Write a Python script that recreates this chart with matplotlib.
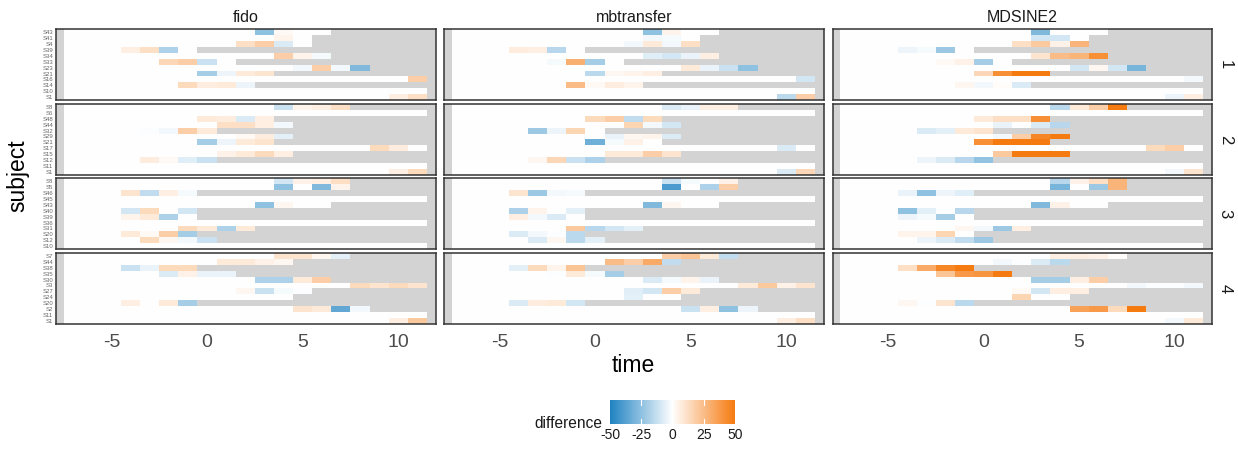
import numpy as np
import matplotlib
matplotlib.use("Agg")
import matplotlib.pyplot as plt
from matplotlib.colors import LinearSegmentedColormap, Normalize
from matplotlib.cm import ScalarMappable

plt.rcParams['font.family'] = ['Liberation Sans', 'DejaVu Sans']

times = list(range(-7, 12))
methods = ["fido", "mbtransfer", "MDSINE2"]
facets = ["1", "2", "3", "4"]
legend_breaks = [-50, -25, 0, 25, 50]

subjects_1 = ["S43", "S41", "S4", "S39", "S34", "S33", "S23", "S21", "S16", "S14", "S10", "S1"]
last_1 = [6, 5, 5, -1, 6, 1, 8, 3, 11, 2, 11, 11]
fido_1 = [("S43",3,-25),("S43",4,2),("S41",4,4),("S4",2,12),("S4",3,18),("S4",4,-8),("S39",-4,6),("S39",-3,12),("S39",-2,-18),("S34",4,18),("S34",5,4),("S34",6,-2),("S33",-2,15),("S33",-1,18),("S33",0,-12),("S23",5,-3),("S23",6,18),("S23",7,-3),("S23",8,-28),("S21",0,-20),("S21",1,-4),("S21",2,8),("S21",3,10),("S16",11,18),("S14",-1,14),("S14",0,7),("S14",1,8),("S14",2,-4),("S1",10,6),("S1",11,12)]
mbtransfer_1 = [("S43",3,-25),("S43",4,4),("S41",3,-3),("S41",4,-2),("S4",2,-3),("S4",3,8),("S4",4,-3),("S4",5,12),("S39",-4,7),("S39",-3,6),("S39",-2,-16),("S34",3,-7),("S34",4,-10),("S34",5,-5),("S34",6,6),("S33",-2,-2),("S33",-1,30),("S33",0,-20),("S23",5,8),("S23",6,-5),("S23",7,-12),("S23",8,-25),("S21",0,-15),("S21",1,3),("S21",2,4),("S21",3,6),("S16",11,-10),("S14",-1,25),("S14",0,2),("S14",1,7),("S14",2,4),("S1",10,-15),("S1",11,18)]
mdsine_1 = [("S43",3,-28),("S41",3,-10),("S41",4,-10),("S4",2,12),("S4",3,20),("S4",4,5),("S4",5,28),("S39",-4,-4),("S39",-3,-2),("S39",-2,-22),("S34",3,10),("S34",4,25),("S34",5,28),("S34",6,42),("S33",-2,2),("S33",-1,5),("S33",0,-20),("S23",5,-10),("S23",6,3),("S23",7,-10),("S23",8,-30),("S21",0,15),("S21",1,42),("S21",2,50),("S21",3,50),("S16",11,-3),("S14",-1,3),("S14",0,-3),("S14",1,1),("S14",2,-8),("S1",10,-4),("S1",11,6)]

subjects_2 = ["S8", "S6", "S48", "S44", "S32", "S29", "S21", "S17", "S15", "S12", "S11", "S1"]
last_2 = [7, 11, 3, 4, 0, 4, 3, 11, 4, 0, 11, 11]
fido_2 = [("S8",4,-12),("S8",5,4),("S8",6,6),("S8",7,12),("S48",0,8),("S48",1,7),("S48",2,-8),("S48",3,6),("S44",1,12),("S44",2,12),("S44",3,6),("S44",4,-3),("S32",-3,-1),("S32",-2,-3),("S32",-1,18),("S32",0,8),("S29",2,2),("S29",3,7),("S29",4,-6),("S21",0,-20),("S21",1,-4),("S21",2,8),("S21",3,10),("S17",9,14),("S17",10,7),("S15",1,5),("S15",2,8),("S15",3,14),("S15",4,6),("S12",-3,7),("S12",-2,2),("S12",-1,-7),("S12",0,-12),("S1",10,6),("S1",11,14)]
mbtransfer_2 = [("S8",4,-8),("S8",5,-5),("S8",6,6),("S8",7,6),("S48",0,14),("S48",1,18),("S48",2,-14),("S48",3,14),("S44",2,16),("S44",3,-3),("S44",4,-10),("S32",-3,-22),("S32",-2,-4),("S32",-1,16),("S29",1,-5),("S29",2,3),("S29",3,4),("S29",4,-8),("S21",0,-32),("S21",1,-2),("S21",2,5),("S17",10,-8),("S15",1,8),("S15",2,8),("S15",3,18),("S15",4,10),("S12",-3,3),("S12",-2,15),("S12",-1,-12),("S12",0,-18),("S1",10,-8),("S1",11,15)]
mdsine_2 = [("S8",4,-15),("S8",5,8),("S8",6,18),("S8",7,50),("S48",0,8),("S48",1,12),("S48",2,12),("S48",3,42),("S44",1,-5),("S44",3,-8),("S44",4,-16),("S32",-3,-8),("S32",-2,-6),("S32",-1,8),("S32",0,10),("S29",1,-3),("S29",2,18),("S29",3,45),("S29",4,50),("S21",0,42),("S21",1,50),("S21",2,50),("S21",3,50),("S17",9,14),("S17",10,18),("S15",1,20),("S15",2,50),("S15",3,50),("S15",4,50),("S12",-3,-4),("S12",-2,-8),("S12",-1,-16),("S12",0,-24),("S1",10,-3),("S1",11,10)]

subjects_3 = ["S8", "S5", "S46", "S45", "S43", "S40", "S39", "S36", "S31", "S20", "S12", "S10"]
last_3 = [7, 7, -1, 11, 6, -1, -1, 11, 2, -1, 0, 11]
fido_3 = [("S8",4,-10),("S8",5,5),("S8",6,6),("S8",7,12),("S5",4,-25),("S5",6,-28),("S5",7,4),("S46",-4,10),("S46",-3,-14),("S46",-2,6),("S46",-1,-2),("S43",3,-25),("S43",4,3),("S40",-4,-10),("S40",-3,14),("S40",-1,-10),("S39",-4,4),("S39",-3,8),("S39",-2,-18),("S31",-1,14),("S31",0,8),("S31",1,-18),("S31",2,8),("S20",-4,8),("S20",-3,2),("S20",-2,18),("S20",-1,-20),("S12",-3,14),("S12",-2,3),("S12",-1,-3),("S12",0,-12)]
mbtransfer_3 = [("S8",4,-12),("S8",5,-2),("S8",7,5),("S5",4,-40),("S5",6,-18),("S5",7,18),("S46",-4,10),("S46",-3,-22),("S46",-2,-3),("S46",-1,-2),("S43",3,-28),("S43",4,3),("S40",-4,-18),("S40",-3,4),("S40",-1,-6),("S39",-4,6),("S39",-3,-3),("S39",-2,-8),("S31",-1,20),("S31",0,-16),("S31",1,-10),("S31",2,-6),("S20",-4,-8),("S20",-3,-3),("S20",-2,-1),("S20",-1,-15),("S12",-3,-8),("S12",-2,3),("S12",-1,-15),("S12",0,-6)]
mdsine_3 = [("S8",4,-16),("S8",5,5),("S8",6,12),("S8",7,28),("S5",4,-30),("S5",6,-22),("S5",7,28),("S46",-4,-5),("S46",-3,-25),("S46",-2,-4),("S46",-1,-7),("S43",3,-28),("S43",4,5),("S40",-4,-25),("S40",-3,-6),("S40",-1,-16),("S39",-4,-4),("S39",-3,-2),("S39",-2,-20),("S31",-1,3),("S31",0,-3),("S31",1,-22),("S31",2,6),("S20",-4,4),("S20",-3,4),("S20",-2,16),("S12",-3,-4),("S12",-2,-8),("S12",-1,-14),("S12",0,-22)]

subjects_4 = ["S7", "S44", "S38", "S35", "S30", "S3", "S27", "S24", "S20", "S2", "S11", "S1"]
last_4 = [7, 4, -1, 1, 6, 11, 5, 4, -1, 8, 11, 11]
fido_4 = [("S7",4,10),("S7",5,10),("S7",6,3),("S7",7,-6),("S44",1,8),("S44",2,8),("S44",3,5),("S44",4,3),("S38",-4,-12),("S38",-3,-5),("S38",-2,14),("S38",-1,14),("S35",-2,-8),("S35",-1,5),("S35",0,-5),("S35",1,-5),("S30",3,-18),("S30",4,-18),("S30",5,8),("S30",6,18),("S3",8,14),("S3",9,10),("S3",10,14),("S3",11,10),("S27",2,3),("S27",3,-12),("S27",4,-2),("S27",5,-1),("S20",-4,6),("S20",-2,8),("S20",-1,-20),("S2",5,10),("S2",6,8),("S2",7,-35),("S2",8,-3),("S1",10,6),("S1",11,20)]
mbtransfer_4 = [("S7",4,18),("S7",5,22),("S7",6,8),("S7",7,-14),("S44",1,25),("S44",2,18),("S44",3,32),("S44",4,-14),("S38",-4,-6),("S38",-3,14),("S38",-2,4),("S38",-1,22),("S35",-2,-1),("S35",-1,8),("S35",0,-2),("S35",1,-20),("S30",3,-8),("S30",4,-2),("S30",5,4),("S30",6,-5),("S3",8,8),("S3",9,20),("S3",10,5),("S3",11,10),("S27",2,-7),("S27",3,-10),("S27",4,18),("S27",5,8),("S24",2,-6),("S20",-4,-8),("S20",-3,7),("S20",-2,8),("S20",-1,-10),("S2",5,-12),("S2",6,6),("S2",7,-25),("S2",8,-4),("S1",10,6),("S1",11,12)]
mdsine_4 = [("S7",4,6),("S7",5,6),("S7",6,5),("S7",7,1),("S44",1,-3),("S44",2,-1),("S44",3,-8),("S44",4,-15),("S38",-4,12),("S38",-3,32),("S38",-2,45),("S38",-1,50),("S35",-2,22),("S35",-1,38),("S35",0,40),("S35",1,50),("S30",3,-20),("S30",4,-20),("S30",5,6),("S30",6,18),("S3",8,-3),("S3",9,-1),("S3",10,-1),("S3",11,-3),("S27",2,2),("S27",3,-10),("S27",4,6),("S27",5,6),("S24",2,16),("S20",-4,3),("S20",-3,-1),("S20",-2,10),("S20",-1,-15),("S2",5,35),("S2",6,38),("S2",7,14),("S2",8,50),("S1",10,-3),("S1",11,8)]

subjects = [subjects_1, subjects_2, subjects_3, subjects_4]
lasts = [last_1, last_2, last_3, last_4]
cells = [[fido_1, mbtransfer_1, mdsine_1],
         [fido_2, mbtransfer_2, mdsine_2],
         [fido_3, mbtransfer_3, mdsine_3],
         [fido_4, mbtransfer_4, mdsine_4]]

W, H = 1238, 449
fig = plt.figure(figsize=(W / 100, H / 100), dpi=100)

cmap = LinearSegmentedColormap.from_list("diff", ["#1F82C2", "#FFFFFF", "#F57A10"])
norm = Normalize(vmin=-50, vmax=50)
GREY = "#D3D3D3"

col_left = [56, 444, 832.5]
pan_w = 379.5
row_top = [29.3, 104.0, 178.3, 253.0]
pan_h = 70.8

def pix_rect(x, y, w, h):
    return [x / W, 1 - (y + h) / H, w / W, h / H]

tedges = np.arange(times[0] - 0.5, times[-1] + 1.0, 1.0)

for i in range(4):
    subs = subjects[i]
    n = len(subs)
    yedges = np.arange(-0.5, n, 1.0)
    for j in range(3):
        ax = fig.add_axes(pix_rect(col_left[j], row_top[i], pan_w, pan_h))
        mat = np.full((n, len(times)), np.nan)
        for k, s in enumerate(subs):
            for c, t in enumerate(times):
                if t <= lasts[i][k]:
                    mat[k, c] = 0.0
        for (s, t, v) in cells[i][j]:
            mat[subs.index(s), times.index(t)] = v
        ax.set_facecolor(GREY)
        ax.pcolormesh(tedges, yedges, np.ma.masked_invalid(mat), cmap=cmap, norm=norm,
                      shading="flat", edgecolors="none", antialiased=False)
        ax.set_xlim(-7.9, 11.95)
        ax.set_ylim(n - 0.5, -0.5)
        for sp in ax.spines.values():
            sp.set_color("#333333")
            sp.set_linewidth(1.1)
        ax.set_xticks([-5, 0, 5, 10])
        ax.tick_params(axis="both", length=0)
        if i == 3:
            ax.set_xticklabels(["-5", "0", "5", "10"], fontsize=14, color="#4D4D4D")
            ax.tick_params(axis="x", pad=7)
        else:
            ax.set_xticklabels([])
        if j == 0:
            ax.set_yticks(range(n))
            ax.set_yticklabels(subs, fontsize=4.3, color="#666666")
            ax.tick_params(axis="y", pad=2)
        else:
            ax.set_yticks([])
        if i == 0:
            ax.set_title(methods[j], fontsize=11.5, color="#1A1A1A", pad=5)
        if j == 2:
            ax.text(1.035, 0.5, facets[i], transform=ax.transAxes, rotation=270,
                    ha="center", va="center", fontsize=12, color="#1A1A1A")

fig.text(633 / W, 1 - 365 / H, "time", ha="center", va="center", fontsize=16.5, color="black")
fig.text(18 / W, 1 - 176 / H, "subject", ha="center", va="center", rotation=90,
         fontsize=16.5, color="black")

cax = fig.add_axes(pix_rect(610, 400, 125, 24))
cb = fig.colorbar(ScalarMappable(norm=norm, cmap=cmap), cax=cax, orientation="horizontal")
cb.outline.set_visible(False)
cb.set_ticks(legend_breaks)
cb.set_ticklabels([str(b) for b in legend_breaks])
cax.tick_params(axis="x", length=0, labelsize=10, labelcolor="#1A1A1A", pad=3)
for b in legend_breaks[1:-1]:
    cax.plot([b, b], [0, 0.2], color="white", lw=0.8, transform=cax.get_xaxis_transform())
    cax.plot([b, b], [0.8, 1.0], color="white", lw=0.8, transform=cax.get_xaxis_transform())
fig.text(602 / W, 1 - 423 / H, "difference", ha="right", va="center", fontsize=11.2, color="#1A1A1A")

fig.savefig("out.png", dpi=100)
